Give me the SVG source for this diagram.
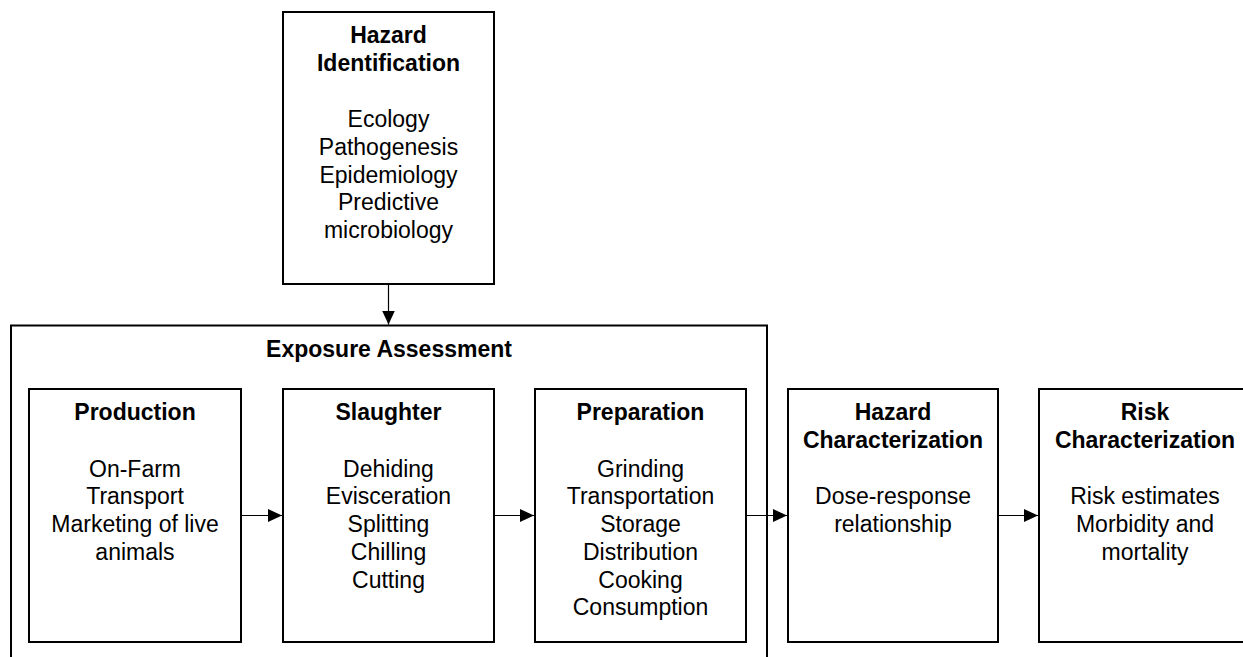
<svg xmlns="http://www.w3.org/2000/svg" width="1243" height="657" viewBox="0 0 1243 657">
<style>
.box{fill:#fff;stroke:#000;stroke-width:2}
.t{font-family:"Liberation Sans",Arial,sans-serif;font-size:23px;fill:#000;text-anchor:middle}
.b{font-weight:bold}
.c{stroke:#000;stroke-width:1.2;fill:none}
</style>
<defs>
<marker id="ah" markerWidth="14" markerHeight="14" refX="14" refY="7" orient="auto" markerUnits="userSpaceOnUse">
<path d="M0,0.5 L14,7 L0,13.5 Z" fill="#000"/>
</marker>
</defs>
<rect width="1243" height="657" fill="#fff"/>
<g id="exposure-assessment">
<path class="box" d="M11,700 V325.5 H767 V700" fill="none"/>
<text class="t b" x="389" y="357">Exposure Assessment</text>
</g>
<g id="hazard-identification">
<rect class="box" x="283" y="12" width="211" height="272"/>
<text class="t b" x="388.5" y="43">Hazard</text>
<text class="t b" x="388.5" y="71">Identification</text>
<text class="t" x="388.5" y="127">Ecology</text>
<text class="t" x="388.5" y="155">Pathogenesis</text>
<text class="t" x="388.5" y="182.5">Epidemiology</text>
<text class="t" x="388.5" y="210">Predictive</text>
<text class="t" x="388.5" y="238">microbiology</text>
</g>
<g id="production">
<rect class="box" x="29" y="389" width="212" height="253"/>
<text class="t b" x="135" y="420">Production</text>
<text class="t" x="135" y="476.5">On-Farm</text>
<text class="t" x="135" y="504.3">Transport</text>
<text class="t" x="135" y="532">Marketing of live</text>
<text class="t" x="135" y="559.8">animals</text>
</g>
<g id="slaughter">
<rect class="box" x="283" y="389" width="211" height="253"/>
<text class="t b" x="388.5" y="420">Slaughter</text>
<text class="t" x="388.5" y="476.5">Dehiding</text>
<text class="t" x="388.5" y="504.3">Evisceration</text>
<text class="t" x="388.5" y="532">Splitting</text>
<text class="t" x="388.5" y="559.8">Chilling</text>
<text class="t" x="388.5" y="587.6">Cutting</text>
</g>
<g id="preparation">
<rect class="box" x="535" y="389" width="211" height="253"/>
<text class="t b" x="640.5" y="420">Preparation</text>
<text class="t" x="640.5" y="476.5">Grinding</text>
<text class="t" x="640.5" y="504.3">Transportation</text>
<text class="t" x="640.5" y="532">Storage</text>
<text class="t" x="640.5" y="559.8">Distribution</text>
<text class="t" x="640.5" y="587.6">Cooking</text>
<text class="t" x="640.5" y="615.3">Consumption</text>
</g>
<g id="hazard-characterization">
<rect class="box" x="788" y="389" width="210" height="253"/>
<text class="t b" x="893" y="420">Hazard</text>
<text class="t b" x="893" y="447.8">Characterization</text>
<text class="t" x="893" y="504">Dose-response</text>
<text class="t" x="893" y="531.7">relationship</text>
</g>
<g id="risk-characterization">
<rect class="box" x="1039" y="389" width="211" height="253"/>
<text class="t b" x="1145" y="420">Risk</text>
<text class="t b" x="1145" y="447.8">Characterization</text>
<text class="t" x="1145" y="504">Risk estimates</text>
<text class="t" x="1145" y="531.7">Morbidity and</text>
<text class="t" x="1145" y="559.5">mortality</text>
</g>
<g id="connectors">
<line class="c" x1="388.5" y1="284" x2="388.5" y2="324.5" marker-end="url(#ah)"/>
<line class="c" x1="241" y1="515.5" x2="282" y2="515.5" marker-end="url(#ah)"/>
<line class="c" x1="494" y1="515.5" x2="534" y2="515.5" marker-end="url(#ah)"/>
<line class="c" x1="746" y1="515.5" x2="787" y2="515.5" marker-end="url(#ah)"/>
<line class="c" x1="998" y1="515.5" x2="1038" y2="515.5" marker-end="url(#ah)"/>
</g>
</svg>
